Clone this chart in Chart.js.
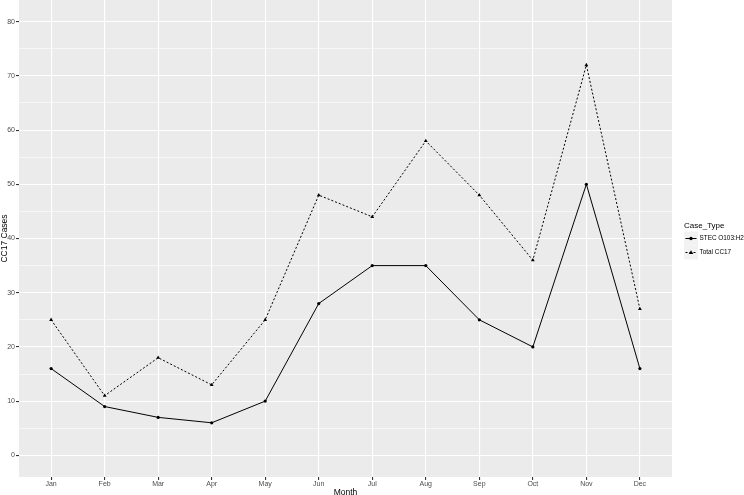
<!DOCTYPE html>
<html>
<head>
<meta charset="utf-8">
<script src="https://cdn.jsdelivr.net/npm/chart.js@4/dist/chart.umd.min.js"></script>
<style>
  html, body { margin: 0; padding: 0; background: #fff; }
  canvas { display: block; }
</style>
</head>
<body>
<canvas id="cc17Chart" width="744" height="495"></canvas>
<script>
// Datos
const months = ['Jan', 'Feb', 'Mar', 'Apr', 'May', 'Jun', 'Jul', 'Aug', 'Sep', 'Oct', 'Nov', 'Dec'];
const stecCases = [16, 9, 7, 6, 10, 28, 35, 35, 25, 20, 50, 16];
const totalCases = [25, 11, 18, 13, 25, 48, 44, 58, 48, 36, 72, 27];
const yMajorTicks = [0, 10, 20, 30, 40, 50, 60, 70, 80];
const yMinorTicks = [5, 15, 25, 35, 45, 55, 65, 75];
const seriesNames = ['STEC O103:H2', 'Total CC17'];
const legendTitle = 'Case_Type';

const FONT = '"Liberation Sans", Arial, sans-serif';

const toPoints = (vals) => vals.map((v, i) => ({ x: i, y: v }));

// fondo gris del panel (estilo ggplot)
const panelBg = {
    id: 'panelBg',
    beforeDraw: (chart) => {
        const { ctx, chartArea: a } = chart;
        ctx.save();
        ctx.fillStyle = '#fff';
        ctx.fillRect(0, 0, chart.width, chart.height);
        ctx.fillStyle = '#EBEBEB';
        ctx.fillRect(a.left, a.top, a.right - a.left, a.bottom - a.top);
        ctx.restore();
    }
};

// leyenda a la derecha, dibujada a mano
const sideLegend = {
    id: 'sideLegend',
    afterDraw: (chart) => {
        const ctx = chart.ctx;
        const x0 = 684;
        ctx.save();
        ctx.fillStyle = '#000';
        ctx.font = '8px ' + FONT;
        ctx.textBaseline = 'middle';
        ctx.textAlign = 'left';
        ctx.fillText(legendTitle, x0, 226);

        chart.data.datasets.forEach((ds, i) => {
            const cy = 238.5 + i * 14;
            ctx.fillStyle = '#F2F2F2';
            ctx.fillRect(x0, cy - 7, 14, 14);
            ctx.strokeStyle = '#000';
            ctx.lineWidth = 1;
            ctx.setLineDash(ds.borderDash || []);
            ctx.beginPath();
            ctx.moveTo(x0 + 1.5, cy);
            ctx.lineTo(x0 + 12.5, cy);
            ctx.stroke();
            ctx.setLineDash([]);
            ctx.fillStyle = '#000';
            ctx.beginPath();
            const cx = x0 + 7;
            if (ds.pointStyle === 'triangle') {
                const r = 2.3;
                ctx.moveTo(cx, cy - r);
                ctx.lineTo(cx + r, cy + r * 0.7);
                ctx.lineTo(cx - r, cy + r * 0.7);
                ctx.closePath();
            } else {
                ctx.arc(cx, cy, 1.7, 0, Math.PI * 2);
            }
            ctx.fill();
            ctx.font = '6.4px ' + FONT;
            ctx.fillText(ds.label, x0 + 15.5, cy);
        });
        ctx.restore();
    }
};

const ctx = document.getElementById('cc17Chart').getContext('2d');

new Chart(ctx, {
    type: 'line',
    data: {
        datasets: [{
            label: seriesNames[0],
            data: toPoints(stecCases),
            borderColor: '#000',
            backgroundColor: '#000',
            borderWidth: 1,
            pointStyle: 'circle',
            pointRadius: 1.6,
            pointBorderWidth: 0,
            tension: 0
        }, {
            label: seriesNames[1],
            data: toPoints(totalCases),
            borderColor: '#000',
            backgroundColor: '#000',
            borderWidth: 1,
            borderDash: [2, 2],
            pointStyle: 'triangle',
            pointRadius: 2.2,
            pointBorderWidth: 0,
            tension: 0
        }]
    },
    options: {
        responsive: false,
        devicePixelRatio: 1,
        animation: false,
        layout: { autoPadding: false, padding: { left: 0, top: 0, right: 72, bottom: 0 } },
        plugins: { legend: { display: false }, tooltip: { enabled: false } },
        scales: {
            x: {
                type: 'linear',
                min: -0.6,
                max: 11.6,
                afterBuildTicks: (scale) => { scale.ticks = months.map((m, i) => ({ value: i })); },
                afterFit: (scale) => { scale.height = 18; scale.paddingLeft = 0; scale.paddingRight = 0; },
                border: { display: false },
                grid: { color: '#fff', lineWidth: 1.1, tickColor: '#333', tickLength: 3 },
                ticks: {
                    autoSkip: false, maxRotation: 0, padding: 0,
                    color: '#4D4D4D', font: { family: FONT, size: 7 },
                    callback: (v) => months[v]
                },
                title: {
                    display: true, text: 'Month', color: '#000',
                    font: { family: FONT, size: 8.5, lineHeight: 1 }, padding: { top: 0, bottom: -2 }
                }
            },
            y: {
                min: -4,
                max: 84,
                afterBuildTicks: (scale) => {
                    scale.ticks = yMajorTicks.concat(yMinorTicks).sort((a, b) => a - b).map(v => ({ value: v }));
                },
                afterFit: (scale) => { scale.width = 19; scale.paddingTop = 0; scale.paddingBottom = 0; },
                border: { display: false },
                grid: {
                    color: '#fff',
                    lineWidth: (c) => yMajorTicks.includes(c.tick.value) ? 1.1 : 0.55,
                    tickColor: (c) => yMajorTicks.includes(c.tick.value) ? '#333' : 'rgba(0,0,0,0)',
                    tickLength: 3
                },
                ticks: {
                    padding: 1, color: '#4D4D4D', font: { family: FONT, size: 7 },
                    callback: (v) => yMajorTicks.includes(v) ? String(v) : ''
                },
                title: {
                    display: true, text: 'CC17 Cases', color: '#000',
                    font: { family: FONT, size: 8.5, lineHeight: 1 }, padding: 0
                }
            }
        }
    },
    plugins: [panelBg, sideLegend]
});
</script>
</body>
</html>
